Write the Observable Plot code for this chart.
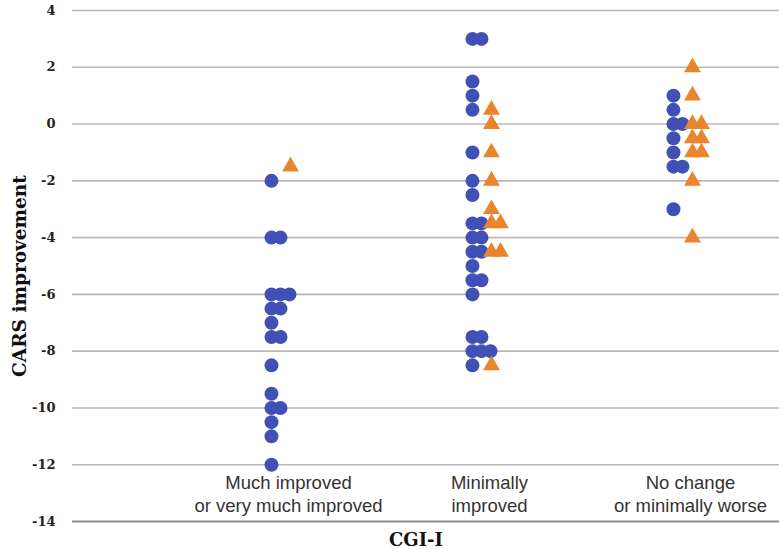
<!DOCTYPE html>
<html>
<head>
<meta charset="utf-8">
<script src="https://cdn.jsdelivr.net/npm/d3@7"></script>
<script src="https://cdn.jsdelivr.net/npm/@observablehq/plot@0.6"></script>
<style>
  html, body { margin: 0; padding: 0; background: #fff; }
  #chart svg { display: block; }
</style>
</head>
<body>
<div id="chart"></div>
<script>
// ---- data ----
const categories = ["Much improved\nor very much improved", "Minimally\nimproved", "No change\nor minimally worse"];
const yTicks = [-14, -12, -10, -8, -6, -4, -2, 0, 2, 4];

// blue circles, per CGI-I category
const circles1 = [-2, -4, -4, -6, -6, -6, -6.5, -6.5, -7, -7.5, -7.5, -8.5, -9.5, -10, -10, -10.5, -11, -12];
const circles2 = [3, 3, 1.5, 1, 0.5, -1, -2, -2.5, -3.5, -3.5, -4, -4, -4.5, -4.5, -5, -5.5, -5.5, -6, -7.5, -7.5, -8, -8, -8, -8.5];
const circles3 = [1, 0.5, 0, 0, -0.5, -1, -1.5, -1.5, -3];

// orange triangles, per CGI-I category
const triangles1 = [-1.5];
const triangles2 = [0.5, 0, -1, -2, -3, -3.5, -3.5, -4.5, -4.5, -8.5];
const triangles3 = [2, 1, 0, 0, -0.5, -0.5, -1, -1, -2, -4];

// ---- layout ----
const W = 779, H = 549;
const mL = 72, mR = 0, mT = 10, mB = 28;
const xDomain = [-0.0746, 3.443];
const pxPerUnit = (W - mL - mR) / (xDomain[1] - xDomain[0]);
const STEP = 9; // horizontal px between tied points

// build rows: tied values in a category stack sideways
function build(lists, basePx, series) {
  const rows = [];
  lists.forEach((vals, ci) => {
    const seen = new Map();
    vals.forEach(v => {
      const k = seen.get(v) || 0;
      seen.set(v, k + 1);
      rows.push({series, cat: ci + 1, value: v, x: ci + 1 + (basePx + k * STEP) / pxPerUnit});
    });
  });
  return rows;
}
const circleRows = build([circles1, circles2, circles3], -17, "circle");
const triangleRows = build([triangles1, triangles2, triangles3], 2, "triangle");

const serif = "'DejaVu Serif', 'Liberation Serif', serif";
const sans = "'Liberation Sans', Arial, Helvetica, sans-serif";

const chart = Plot.plot({
  width: W,
  height: H,
  marginLeft: mL,
  marginRight: mR,
  marginTop: mT,
  marginBottom: mB,
  style: {background: "#fff", overflow: "visible"},
  x: {domain: xDomain, axis: null},
  y: {domain: [-14, 4]},
  marks: [
    Plot.gridY(yTicks.filter(t => t !== -14), {stroke: "#b8b8b8", strokeOpacity: 1, strokeWidth: 1.6}),
    Plot.ruleY([-14], {stroke: "#8c8c8c", strokeWidth: 2}),
    Plot.axisY(yTicks, {
      tickSize: 0, tickPadding: 17, label: null, tickFormat: d => String(d),
      fontFamily: serif, fontWeight: "bold", fontSize: 13, fill: "#222"
    }),
    Plot.text(["CARS improvement"], {
      frameAnchor: "left", textAnchor: "middle", rotate: -90, dx: -52, dy: 10,
      fontFamily: serif, fontWeight: "bold", fontSize: 18.5, fill: "#111"
    }),
    Plot.text(categories, {
      x: (d, i) => i + 1, text: d => d,
      frameAnchor: "bottom", lineAnchor: "bottom", dy: -10, lineHeight: 1.2,
      fontFamily: sans, fontSize: 18.5, fill: "#333"
    }),
    Plot.text(["CGI-I"], {
      frameAnchor: "bottom", lineAnchor: "middle", dy: 19, dx: -10,
      fontFamily: serif, fontWeight: "bold", fontSize: 18, fill: "#111"
    }),
    Plot.dot(circleRows, {x: "x", y: "value", r: 7, fill: "#4150b5", symbol: "circle"}),
    Plot.dot(triangleRows, {x: "x", y: "value", r: 6.3, fill: "#e9852c", symbol: "triangle"})
  ]
});

document.getElementById("chart").append(chart);
</script>
</body>
</html>
